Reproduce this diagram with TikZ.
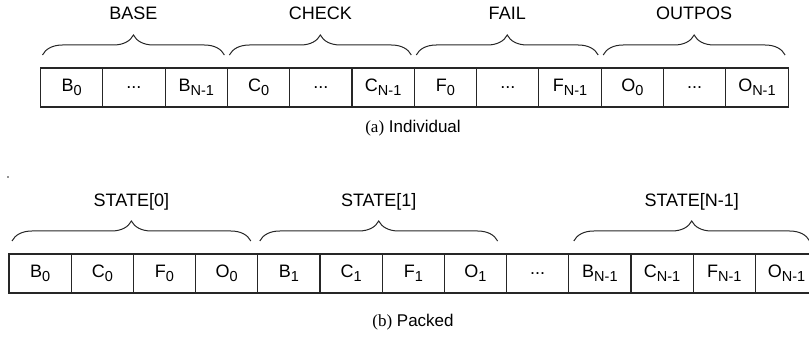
\documentclass[tikz,border=0pt]{standalone}
\usepackage{fontspec}
\setmainfont{Liberation Sans}
\newfontfamily\capserif{Liberation Serif}
\usetikzlibrary{positioning,decorations.pathreplacing}
\newcommand{\sbs}[1]{\raisebox{-4.3pt}{\fontsize{14.5}{14.5}\selectfont #1}}

\begin{document}
\begin{tikzpicture}[x=1pt,y=-1pt,line width=1.1pt,
  cell/.style={draw=black!85,minimum width=62.3pt,minimum height=39pt,inner sep=0pt,outer sep=0pt,font=\fontsize{18}{20}\selectfont},
  grp/.style={decorate,decoration={brace,amplitude=20pt},draw=black!85,line width=1pt},
  lbl/.style={font=\fontsize{18}{20}\selectfont},
  captxt/.style={font=\fontsize{17}{19}\selectfont}]
  \clip (0,0) rectangle (809,339);
  % (a) individual arrays
  \node[cell,anchor=west](B0)at(40.5,87.5){B\sbs{0}};
  \node[cell,right=0pt of B0](Bd){...};
  \node[cell,right=0pt of Bd](BN){B\sbs{N-1}};
  \node[cell,right=0pt of BN](C0){C\sbs{0}};
  \node[cell,right=0pt of C0](Cd){...};
  \node[cell,right=0pt of Cd](CN){C\sbs{N-1}};
  \node[cell,right=0pt of CN](F0){F\sbs{0}};
  \node[cell,right=0pt of F0](Fd){...};
  \node[cell,right=0pt of Fd](FN){F\sbs{N-1}};
  \node[cell,right=0pt of FN](O0){O\sbs{0}};
  \node[cell,right=0pt of O0](Od){...};
  \node[cell,right=0pt of Od](ON){O\sbs{N-1}};
  \draw[grp]([xshift=2pt,yshift=13pt]B0.north west) -- ([xshift=-3pt,yshift=13pt]BN.north east)
    node[lbl,midway,yshift=42pt]{BASE};
  \draw[grp]([xshift=2pt,yshift=13pt]C0.north west) -- ([xshift=-3pt,yshift=13pt]CN.north east)
    node[lbl,midway,yshift=42pt]{CHECK};
  \draw[grp]([xshift=2pt,yshift=13pt]F0.north west) -- ([xshift=-3pt,yshift=13pt]FN.north east)
    node[lbl,midway,yshift=42pt]{FAIL};
  \draw[grp]([xshift=2pt,yshift=13pt]O0.north west) -- ([xshift=-3pt,yshift=13pt]ON.north east)
    node[lbl,midway,yshift=42pt]{OUTPOS};
  \node[captxt](capa)at(413,128){{\capserif(a)} Individual};
  % (b) packed states
  \fill[black!85](8,177) circle (0.8pt);
  \node[cell,anchor=west,minimum width=62.2pt](pB0)at(9,273.5){B\sbs{0}};
  \node[cell,minimum width=62.2pt,right=0pt of pB0](pC0){C\sbs{0}};
  \node[cell,minimum width=62.2pt,right=0pt of pC0](pF0){F\sbs{0}};
  \node[cell,minimum width=62.2pt,right=0pt of pF0](pO0){O\sbs{0}};
  \node[cell,minimum width=62.2pt,right=0pt of pO0](pB1){B\sbs{1}};
  \node[cell,minimum width=62.2pt,right=0pt of pB1](pC1){C\sbs{1}};
  \node[cell,minimum width=62.2pt,right=0pt of pC1](pF1){F\sbs{1}};
  \node[cell,minimum width=62.2pt,right=0pt of pF1](pO1){O\sbs{1}};
  \node[cell,minimum width=62.2pt,right=0pt of pO1](pd){...};
  \node[cell,minimum width=62.2pt,right=0pt of pd](pBN){B\sbs{N-1}};
  \node[cell,minimum width=62.2pt,right=0pt of pBN](pCN){C\sbs{N-1}};
  \node[cell,minimum width=62.2pt,right=0pt of pCN](pFN){F\sbs{N-1}};
  \node[cell,minimum width=62.2pt,right=0pt of pFN](pON){O\sbs{N-1}};
  \draw[grp]([xshift=3pt,yshift=13pt]pB0.north west) -- ([xshift=-7pt,yshift=13pt]pO0.north east)
    node[lbl,midway,yshift=39pt]{STATE[0]};
  \draw[grp]([xshift=2pt,yshift=13pt]pB1.north west) -- ([xshift=-9pt,yshift=13pt]pO1.north east)
    node[lbl,midway,yshift=39pt]{STATE[1]};
  \draw[grp]([xshift=5pt,yshift=13pt]pBN.north west) -- ([xshift=-8pt,yshift=13pt]pON.north east)
    node[lbl,midway,yshift=39pt]{STATE[N-1]};
  \node[captxt](capb)at(413,322){{\capserif(b)} Packed};
\end{tikzpicture}
\end{document}
